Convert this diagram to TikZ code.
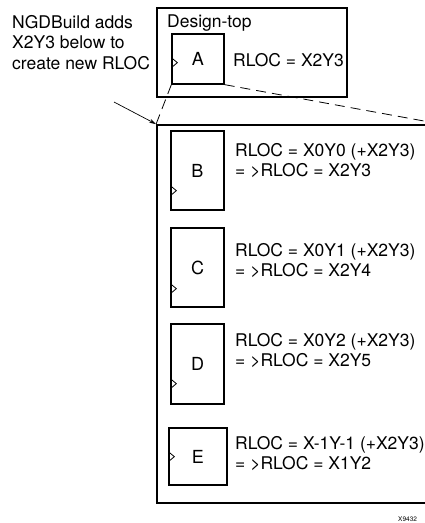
\documentclass[tikz,border=0pt]{standalone}
\usepackage{fontspec}
\setmainfont{TeX Gyre Heros}
\usetikzlibrary{arrows.meta,positioning}

\begin{document}
\begin{tikzpicture}[x=1pt,y=-1pt]
  \tikzstyle{frm}=[rectangle,draw,line width=1.8pt,inner sep=0pt]
  \tikzstyle{blk}=[rectangle,draw,line width=1.3pt,inner sep=0pt,font=\fontsize{18}{20.5}\selectfont]
  \tikzstyle{txt}=[anchor=base west,inner sep=0pt,align=left,font=\fontsize{17.5}{20}\selectfont]
  \useasboundingbox (0,0) rectangle (425,523);
  \node[frm,minimum width=190pt,minimum height=89pt] (top) at (252,52.5) {};
  \node[frm,minimum width=283pt,minimum height=378pt] (grp) at (298.5,314) {};
  \node[txt] (dt) at (167,27) {Design-top};
  \node[txt,font=\fontsize{17.5}{20.5}\selectfont] (note) at (12,69) {NGDBuild adds\\X2Y3 below to\\create new RLOC};
  \node[blk,minimum width=52pt,minimum height=50pt] (a) at (198,59) {A};
  \node[blk,minimum width=53pt,minimum height=79pt] (b) at (197.5,170.5) {B};
  \node[blk,minimum width=53pt,minimum height=79pt] (c) at (197.5,267.5) {C};
  \node[blk,minimum width=53pt,minimum height=80pt] (d) at (197.5,364) {D};
  \node[blk,minimum width=58pt,minimum height=57pt] (e) at (198,456.5) {E};
  \node[txt] (ta) at (233,66) {RLOC = X2Y3};
  \node[txt] (tb) at (235,176) {RLOC = X0Y0 (+X2Y3)\\= >RLOC = X2Y3};
  \node[txt] (tc) at (235,276) {RLOC = X0Y1 (+X2Y3)\\= >RLOC = X2Y4};
  \node[txt] (td) at (235,366) {RLOC = X0Y2 (+X2Y3)\\= >RLOC = X2Y5};
  \node[txt] (te) at (235,469) {RLOC = X-1Y-1 (+X2Y3)\\= >RLOC = X1Y2};
  \node[anchor=base west,inner sep=0pt,font=\fontsize{6.5}{7}\selectfont] (fig) at (398,521) {X9432};
  % clock marks
  \foreach \b/\h in {a/22,b/20,c/19,d/21,e/29}
    \draw[line width=0.8pt] ([yshift=\h pt]\b.south west) +(0,-5) -- +(6,0) -- +(0,5);
  % zoom lines
  \draw[dash pattern=on 10pt off 6pt,line width=0.8pt] (a.south west) -- (grp.north west);
  \draw[dash pattern=on 10pt off 6pt,line width=0.8pt] (a.south east) -- (grp.north east);
  \coordinate (ntip) at (114,102);
  \draw[-{Stealth[length=7pt,width=4pt]},line width=0.7pt] (ntip) -- (grp.north west);
\end{tikzpicture}
\end{document}
